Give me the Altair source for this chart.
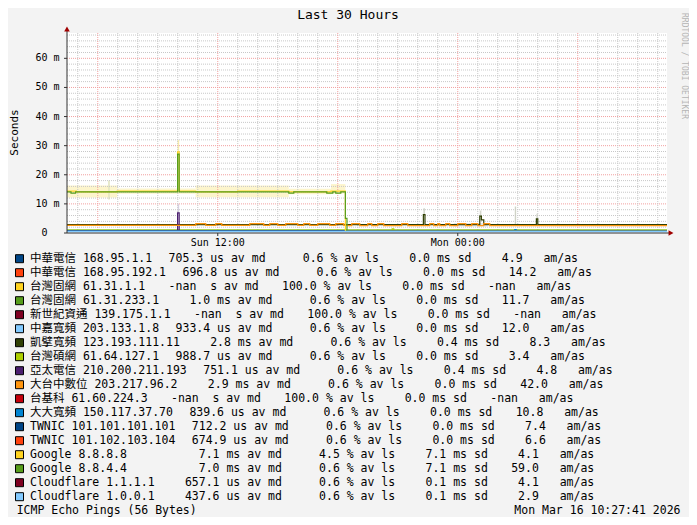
import altair as alt
import pandas as pd

NBSP = "\u00a0"
MONO = "DejaVu Sans Mono, Noto Sans CJK TC, monospace"

# ---------------- axes / time domain (hours since Sun 00:00) ----------------
H0 = 4 + 27 / 60 + 41 / 3600
H1 = H0 + 30
Y_MAX = 68.7

TITLE = "Last 30 Hours"
Y_TITLE = "Seconds"
WATERMARK = "RRDTOOL / TOBI OETIKER"
FOOT_LEFT = "ICMP Echo Pings (56 Bytes)"
FOOT_RIGHT = "Mon Mar 16 10:27:41 2026"

X_TICK_HOURS = [12, 24]
X_TICK_LABELS = ["Sun 12:00", "Mon 00:00"]
Y_TICK_MS = [0, 10, 20, 30, 40, 50, 60]
Y_TICK_LABELS = ["0  ", "10 m", "20 m", "30 m", "40 m", "50 m", "60 m"]

GRID_MINOR_MS = [2, 4, 6, 8, 12, 14, 16, 18, 22, 24, 26, 28, 32, 34, 36, 38,
                 42, 44, 46, 48, 52, 54, 56, 58, 62, 64, 66, 68]
GRID_MAJOR_MS = [10, 20, 30, 40, 50, 60]
GRID_MINOR_H = [5, 7, 8, 9, 10, 11, 13, 14, 15, 16, 17, 19, 20, 21, 22, 23,
                25, 26, 27, 28, 29, 31, 32, 33, 34]
GRID_MAJOR_H = [6, 12, 18, 24, 30]

# ---------------- legend table ----------------
LEG_NAMES = ["中華電信 168.95.1.1", "中華電信 168.95.192.1", "台灣固網 61.31.1.1",
             "台灣固網 61.31.233.1", "新世紀資通 139.175.1.1", "中嘉寬頻 203.133.1.8",
             "凱擘寬頻 123.193.111.11", "台灣碩網 61.64.127.1", "亞太電信 210.200.211.193",
             "大台中數位 203.217.96.2", "台基科 61.60.224.3", "大大寬頻 150.117.37.70",
             "TWNIC 101.101.101.101", "TWNIC 101.102.103.104", "Google 8.8.8.8",
             "Google 8.8.4.4", "Cloudflare 1.1.1.1", "Cloudflare 1.0.0.1"]
LEG_COLORS = ["#004586", "#ff420e", "#ffd320", "#579d1c", "#7e0021", "#83caff",
              "#314004", "#aecf00", "#4b1f6f", "#ff950e", "#c5000b", "#0084d1",
              "#004586", "#ff420e", "#ffd320", "#579d1c", "#7e0021", "#83caff"]
LEG_MD = [705.3, 696.8, None, 1.0, None, 933.4, 2.8, 988.7, 751.1, 2.9, None, 839.6,
          712.2, 674.9, 7.1, 7.0, 657.1, 437.6]
LEG_MD_PREFIX = ["u", "u", " ", "m", " ", "u", "m", "u", "u", "m", " ", "u",
                 "u", "u", "m", "m", "u", "u"]
LEG_LS = [0.6, 0.6, 100.0, 0.6, 100.0, 0.6, 0.6, 0.6, 0.6, 0.6, 100.0, 0.6,
          0.6, 0.6, 4.5, 0.6, 0.6, 0.6]
LEG_SD = [0.0, 0.0, 0.0, 0.0, 0.0, 0.0, 0.4, 0.0, 0.4, 0.0, 0.0, 0.0,
          0.0, 0.0, 7.1, 7.1, 0.1, 0.1]
LEG_AM = [4.9, 14.2, None, 11.7, None, 12.0, 8.3, 3.4, 4.8, 42.0, None, 10.8,
          7.4, 6.6, 4.1, 59.0, 4.1, 2.9]

# ---------------- median lines (step breakpoints: hours, ms) ----------------
S01_H, S01_MS = [H0, H1], [0.75, 0.75]
S02_H, S02_MS = [H0, H1], [0.55, 0.55]
S03_H, S03_MS = [], []
S04_H, S04_MS = [H0, H1], [1.0, 1.0]
S05_H, S05_MS = [], []
S06_H, S06_MS = [H0, H1], [0.93, 0.93]
S07_H = [H0, 22.28, 22.36, 25.10, 25.18, 25.30, 27.93, 28.00, H1]
S07_MS = [2.9, 6.3, 2.9, 5.8, 4.5, 2.9, 4.9, 2.9, 2.9]
S08_H, S08_MS = [H0, 20.72, 20.80, H1], [0.99, 1.4, 0.99, 0.99]
S09_H, S09_MS = [H0, 9.99, 10.07, H1], [0.78, 6.9, 0.78, 0.78]
S10_H = [H0, 10.9, 11.4, 11.9, 12.2, 13.6, 14.3, 14.6, 15.0, 15.4, 16.0, 16.3, 16.6,
         17.0, 17.6, 17.9, 18.3, 18.5, 18.7, 19.1, 19.5, 19.7, 20.0, 20.3, 21.2,
         21.5, 22.6, 22.8, 23.0, 23.1, 23.4, 23.6, 24.0, 24.4, 24.7, 25.0, 25.3,
         25.6, H1]
S10_MS = [2.6, 3.2, 2.6, 3.2, 2.6, 3.2, 2.6, 3.2, 2.6, 3.2, 2.6, 3.2, 2.6,
          3.2, 2.6, 3.2, 2.6, 2.5, 3.2, 2.5, 3.2, 2.5, 3.2, 2.5, 3.2,
          2.5, 3.2, 2.5, 3.2, 2.5, 3.2, 2.5, 3.2, 2.5, 3.2, 2.5, 3.2,
          2.5, 2.5]
S11_H, S11_MS = [], []
S12_H, S12_MS = [H0, 26.85, 26.92, H1], [0.85, 1.15, 0.85, 0.85]
S13_H, S13_MS = [H0, H1], [0.75, 0.75]
S14_H, S14_MS = [H0, H1], [0.55, 0.55]
S15_H = [H0, 4.93, 6.97, 9.99, 10.07, 10.89, 12.99, 15.55, 17.66, 18.38, H1]
S15_MS = [14.4, 14.1, 14.4, 27.9, 14.4, 14.1, 14.4, 14.1, 14.4, 0.6, 0.6]
S16_H = [H0, 4.66, 4.89, 9.99, 10.07, 15.55, 15.80, 17.45, 17.75, 17.90, 18.15,
         18.38, 18.46, H1]
S16_MS = [14.1, 13.7, 14.1, 27.1, 14.1, 13.7, 14.1, 13.7, 14.1, 13.7, 14.1,
          5.0, 0.6, 0.6]
S17_H, S17_MS = [H0, H1], [0.52, 0.52]
S18_H, S18_MS = [H0, H1], [0.5, 0.5]

SERIES_H = [S01_H, S02_H, S03_H, S04_H, S05_H, S06_H, S07_H, S08_H, S09_H,
            S10_H, S11_H, S12_H, S13_H, S14_H, S15_H, S16_H, S17_H, S18_H]
SERIES_MS = [S01_MS, S02_MS, S03_MS, S04_MS, S05_MS, S06_MS, S07_MS, S08_MS, S09_MS,
             S10_MS, S11_MS, S12_MS, S13_MS, S14_MS, S15_MS, S16_MS, S17_MS, S18_MS]

# ---------------- pale "smoke" ranges ----------------
SMOKE_H0 = [H0, 6.97, 10.89, 15.55, 17.66, 6.52, 9.99, 9.99, 22.28, 25.10, 26.85, 27.93, 23.8]
SMOKE_H1 = [6.97, 10.89, 15.55, 17.66, 18.38, 6.60, 10.07, 10.07, 22.36, 25.18, 26.92, 28.00, 25.5]
SMOKE_LO = [12.2, 13.5, 12.3, 13.3, 13.5, 11.5, 27.9, 6.9, 6.3, 5.8, 3.0, 4.9, 2.2]
SMOKE_HI = [16.3, 15.3, 16.3, 15.2, 16.8, 18.0, 31.9, 10.0, 8.5, 7.7, 9.1, 6.6, 3.4]
SMOKE_COL = ["#fdf5cc", "#fdf5cc", "#fdf5cc", "#fdf5cc", "#fdf5cc", "#e3e6c2",
             "#fcefa8", "#d9d2e6", "#d4d7cc", "#d4d7cc", "#d0d3c6", "#d4d7cc", "#e6e6e6"]

# ---------------- layout (page pixels) ----------------
PLOT_X, PLOT_Y = 67, 33
PLOT_W, PLOT_H = 600, 200
LEG_X, LEG_Y0, LEG_DY = 30, 258.7, 14.0
SW_X = 19.5
CW, CJK_W, GLUE = 6.92, 11.5, 16.5
CW10 = 6.02
FS_LEG = 11.5

XS = alt.Scale(domain=[H0, H1], nice=False, zero=False)
YS = alt.Scale(domain=[0, Y_MAX], nice=False, zero=False)


def xq(f):
    return alt.X(f"{f}:Q", scale=XS, axis=None)


def yq(f):
    return alt.Y(f"{f}:Q", scale=YS, axis=None)


one = pd.DataFrame({"k": [0]})
layers = []

# smoke
smoke_df = pd.DataFrame({"h0": SMOKE_H0, "h1": SMOKE_H1, "lo": SMOKE_LO,
                         "hi": SMOKE_HI, "c": SMOKE_COL})
layers.append(alt.Chart(smoke_df).mark_rect().encode(
    x=xq("h0"), x2="h1:Q", y=yq("lo"), y2="hi:Q",
    fill=alt.Fill("c:N", scale=None)))

# grid
for vals, col in [(GRID_MINOR_MS, "#c8c8c8"), (GRID_MAJOR_MS, "#f2a0a0")]:
    layers.append(alt.Chart(pd.DataFrame({"ms": vals})).mark_rule(
        color=col, strokeDash=[1, 1], strokeWidth=1).encode(
        y=yq("ms"), x=alt.value(0), x2=alt.value(PLOT_W)))
for vals, col in [(GRID_MINOR_H, "#c8c8c8"), (GRID_MAJOR_H, "#f2a0a0")]:
    layers.append(alt.Chart(pd.DataFrame({"h": vals})).mark_rule(
        color=col, strokeDash=[1, 1], strokeWidth=1).encode(
        x=xq("h"), y=alt.value(0), y2=alt.value(PLOT_H)))

# median lines, drawn in legend order
for idx, (hrs, vals, col) in enumerate(zip(SERIES_H, SERIES_MS, LEG_COLORS)):
    if not hrs:
        continue
    w = 1.6 if idx == len(SERIES_H) - 1 else (1.0 if len(hrs) == 2 else 1.2)
    layers.append(alt.Chart(pd.DataFrame({"h": hrs, "ms": vals})).mark_line(
        interpolate="step-after", color=col, strokeWidth=w).encode(
        x=xq("h"), y=yq("ms")))

# axis lines, ticks, labels, arrows
AX_COL = "#333333"
ARROW_COL = "#a00000"
layers.append(alt.Chart(one).mark_rule(color=AX_COL, strokeWidth=1).encode(
    x=alt.value(0), x2=alt.value(PLOT_W + 3), y=alt.value(PLOT_H)))
layers.append(alt.Chart(one).mark_rule(color=AX_COL, strokeWidth=1).encode(
    x=alt.value(0), y=alt.value(PLOT_H), y2=alt.value(-3)))
layers.append(alt.Chart(one).mark_point(shape="triangle-up", size=32, filled=True,
                                        color=ARROW_COL, opacity=1).encode(
    x=alt.value(0), y=alt.value(-4)))
layers.append(alt.Chart(one).mark_point(shape="triangle-right", size=32, filled=True,
                                        color=ARROW_COL, opacity=1).encode(
    x=alt.value(PLOT_W + 4), y=alt.value(PLOT_H)))

ytick_df = pd.DataFrame({"ms": Y_TICK_MS, "lab": [s.rstrip() for s in Y_TICK_LABELS],
                         "trail": [len(s) - len(s.rstrip()) for s in Y_TICK_LABELS]})
layers.append(alt.Chart(ytick_df).mark_rule(color=AX_COL, strokeWidth=1).encode(
    y=yq("ms"), x=alt.value(-3), x2=alt.value(0)))
layers.append(alt.Chart(ytick_df).transform_calculate(
    xp=f"-7.5 - datum.trail * {CW10}").mark_text(
    align="right", baseline="middle", font=MONO, fontSize=10, color="black").encode(
    y=yq("ms"), x=alt.X("xp:Q", scale=None), text="lab:N"))

xtick_df = pd.DataFrame({"h": X_TICK_HOURS, "lab": X_TICK_LABELS})
layers.append(alt.Chart(xtick_df).mark_rule(color=AX_COL, strokeWidth=1).encode(
    x=xq("h"), y=alt.value(PLOT_H), y2=alt.value(PLOT_H + 3)))
layers.append(alt.Chart(xtick_df).mark_text(
    align="center", baseline="middle", font=MONO, fontSize=10, color="black").encode(
    x=xq("h"), y=alt.value(242.5 - PLOT_Y), text="lab:N"))


# legend rows
def fmt(v):
    return " -nan" if v is None else f"{v:5.1f}"


def disp_width(s):
    return sum(CJK_W if ord(ch) >= 0x2E80 else CW for ch in s)


rows_txt, rows_x, rows_y = [], [], []
sw_x, sw_y, sw_c = [], [], []
for i, name in enumerate(LEG_NAMES):
    y = LEG_Y0 + i * LEG_DY - PLOT_Y
    pad = max(0, 20 - len(name.encode("utf-8")))
    b = f"{fmt(LEG_MD[i])} {LEG_MD_PREFIX[i]}s av md"
    c = f"{fmt(LEG_LS[i])} % av ls"
    d = f"{fmt(LEG_SD[i])} ms sd"
    e = f"{fmt(LEG_AM[i])}   am/as"
    xb = LEG_X + disp_width(name) + pad * CW + GLUE
    xc = xb + 15 * CW + GLUE
    xd = xc + 13 * CW + GLUE
    xe = xd + 11 * CW + GLUE
    for xx, tt in [(LEG_X, name), (xb, b), (xc, c), (xd, d), (xe, e)]:
        lead = len(tt) - len(tt.lstrip(" "))
        rows_txt.append(tt.lstrip(" ").replace(" ", NBSP))
        rows_x.append(xx + lead * CW - PLOT_X)
        rows_y.append(y)
    sw_x.append(SW_X - PLOT_X)
    sw_y.append(y)
    sw_c.append(LEG_COLORS[i])

layers.append(alt.Chart(pd.DataFrame({"xp": sw_x, "yp": sw_y, "c": sw_c})).mark_square(
    size=64, filled=True, stroke="black", strokeWidth=1, opacity=1).encode(
    x=alt.X("xp:Q", scale=None), y=alt.Y("yp:Q", scale=None),
    fill=alt.Fill("c:N", scale=None)))
layers.append(alt.Chart(pd.DataFrame({"xp": rows_x, "yp": rows_y, "t": rows_txt})).mark_text(
    align="left", baseline="middle", font=MONO, fontSize=FS_LEG, color="black").encode(
    x=alt.X("xp:Q", scale=None), y=alt.Y("yp:Q", scale=None), text="t:N"))


def label(txt, x, y, size, align="center", angle=0, color="black"):
    return alt.Chart(one).mark_text(align=align, baseline="middle", font=MONO,
                                    fontSize=size, angle=angle, color=color).encode(
        x=alt.value(x - PLOT_X), y=alt.value(y - PLOT_Y),
        text=alt.value(txt.replace(" ", NBSP)))


layers.append(label(TITLE, 348, 15.2, 13))
layers.append(label(Y_TITLE, 14.5, 132.5, 11, angle=270))
layers.append(label(WATERMARK, 684, 66, 8.0, angle=90, color="#b5b5b5"))
layers.append(label(FOOT_LEFT, 16.7, 511.3, FS_LEG, align="left"))
layers.append(label(FOOT_RIGHT, 680.5, 511.3, FS_LEG, align="right"))

chart = alt.layer(*layers).properties(
    width=PLOT_W, height=PLOT_H,
    autosize=alt.AutoSizeParams(type="none"),
    padding={"left": PLOT_X - 8, "top": PLOT_Y - 8, "right": 681 - (PLOT_X - 8) - PLOT_W,
             "bottom": 509 - (PLOT_Y - 8) - PLOT_H},
    background="#f3f3f3",
).configure_view(fill="white", stroke=None)

chart.save("out.html", embed_options={"renderer": "svg", "actions": False})
